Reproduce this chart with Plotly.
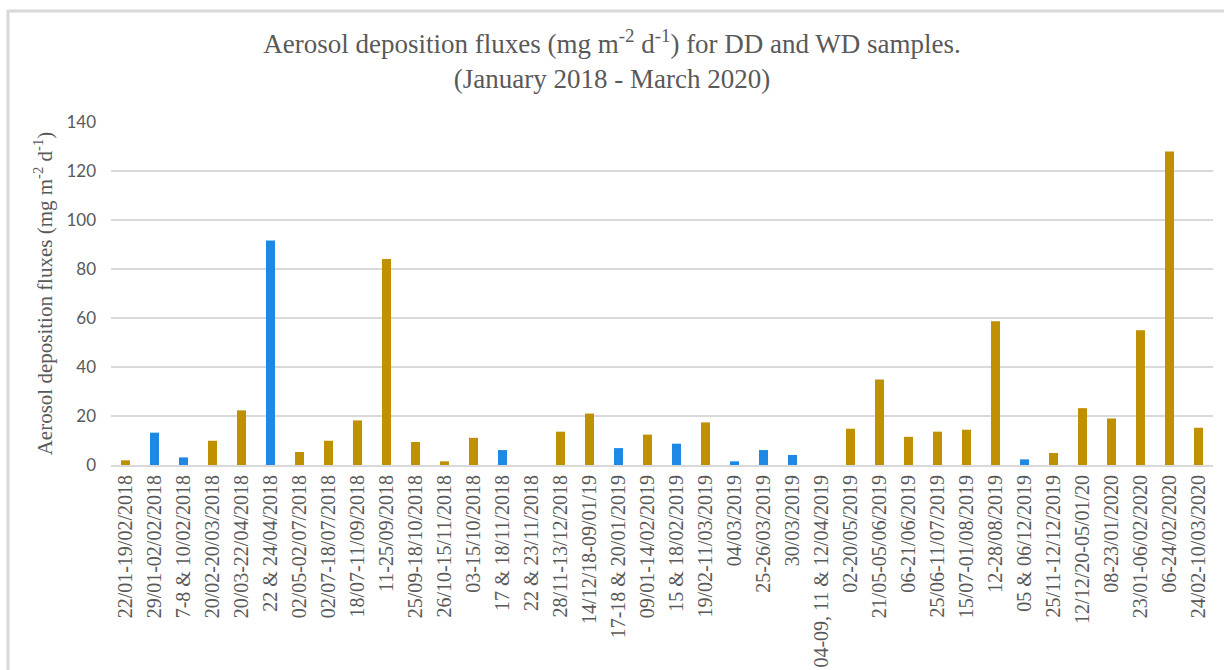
import plotly.graph_objects as go

# Sampling periods (x-axis categories)
periods = [
    "22/01-19/02/2018", "29/01-02/02/2018", "7-8 & 10/02/2018", "20/02-20/03/2018",
    "20/03-22/04/2018", "22 & 24/04/2018", "02/05-02/07/2018", "02/07-18/07/2018",
    "18/07-11/09/2018", "11-25/09/2018", "25/09-18/10/2018", "26/10-15/11/2018",
    "03-15/10/2018", "17 & 18/11/2018", "22 & 23/11/2018", "28/11-13/12/2018",
    "14/12/18-09/01/19", "17-18 & 20/01/2019", "09/01-14/02/2019", "15 & 18/02/2019",
    "19/02-11/03/2019", "04/03/2019", "25-26/03/2019", "30/03/2019",
    "04-09, 11 & 12/04/2019", "02-20/05/2019", "21/05-05/06/2019", "06-21/06/2019",
    "25/06-11/07/2019", "15/07-01/08/2019", "12-28/08/2019", "05 & 06/12/2019",
    "25/11-12/12/2019", "12/12/20-05/01/20", "08-23/01/2020", "23/01-06/02/2020",
    "06-24/02/2020", "24/02-10/03/2020",
]

# Dry deposition (DD) fluxes, mg m-2 d-1
dd_flux = [
    1.9, None, None, 9.9, 22.3, None, 5.3, 9.9, 18.2, 84.1, 9.4, 1.5,
    11.1, None, None, 13.6, 21.0, None, 12.4, None, 17.4, None, None, None,
    None, 14.8, 34.9, 11.5, 13.6, 14.4, 58.7, None, 4.9, 23.2, 19.0, 55.0,
    128.0, 15.2,
]

# Wet deposition (WD) fluxes, mg m-2 d-1
wd_flux = [
    None, 13.2, 3.1, None, None, 91.6, None, None, None, None, None, None,
    None, 6.1, None, None, None, 6.9, None, 8.7, None, 1.5, 6.1, 4.1,
    None, None, None, None, None, None, None, 2.3, None, None, None, None,
    None, None,
]

y_ticks = [0, 20, 40, 60, 80, 100, 120, 140]

GOLD = "#BF9000"
BLUE = "#1E88E5"
GRID = "#D9D9D9"
TEXT = "#595959"
SERIF = "Liberation Serif, Times New Roman, serif"
SANS = "Lato, Liberation Sans, sans-serif"

fig = go.Figure()
fig.add_trace(go.Bar(x=periods, y=dd_flux, name="DD", marker=dict(color=GOLD, line=dict(width=0))))
fig.add_trace(go.Bar(x=periods, y=wd_flux, name="WD", marker=dict(color=BLUE, line=dict(width=0))))

fig.update_layout(
    width=1224,
    height=670,
    barmode="overlay",
    bargap=0.69,
    showlegend=False,
    paper_bgcolor="white",
    plot_bgcolor="white",
    margin=dict(l=111, r=11, t=122, b=205),
    title=dict(
        text="Aerosol deposition fluxes (mg m<sup>-2</sup> d<sup>-1</sup>) for DD and WD samples.<br>(January 2018 - March 2020)",
        x=0.5,
        xanchor="center",
        y=0.921,
        yanchor="middle",
        font=dict(family=SERIF, size=27, color=TEXT),
    ),
    xaxis=dict(
        type="category",
        automargin=False,
        tickangle=-90,
        tickfont=dict(family=SERIF, size=20, color=TEXT),
        showgrid=False,
        showline=True,
        linecolor=GRID,
        linewidth=2,
        ticks="",
    ),
    yaxis=dict(
        range=[0, 140],
        automargin=False,
        tickvals=y_ticks,
        tickfont=dict(family=SANS, size=17, color=TEXT),
        gridcolor=GRID,
        gridwidth=1.5,
        zeroline=False,
        showline=False,
        ticks="",
        ticklabelstandoff=14,
        title=dict(
            text="Aerosol deposition fluxes (mg m<sup>-2</sup> d<sup>-1</sup>)",
            font=dict(family=SERIF, size=21, color=TEXT),
            standoff=8,
        ),
    ),
    shapes=[
        # chart-area frame (top and left edges visible)
        dict(type="rect", xref="paper", yref="paper",
             x0=-0.0935, x1=1.2, y0=-1.0, y1=1.3235,
             line=dict(color=GRID, width=3), fillcolor="rgba(0,0,0,0)", layer="below"),
    ],
)

fig.write_html("out.html")
